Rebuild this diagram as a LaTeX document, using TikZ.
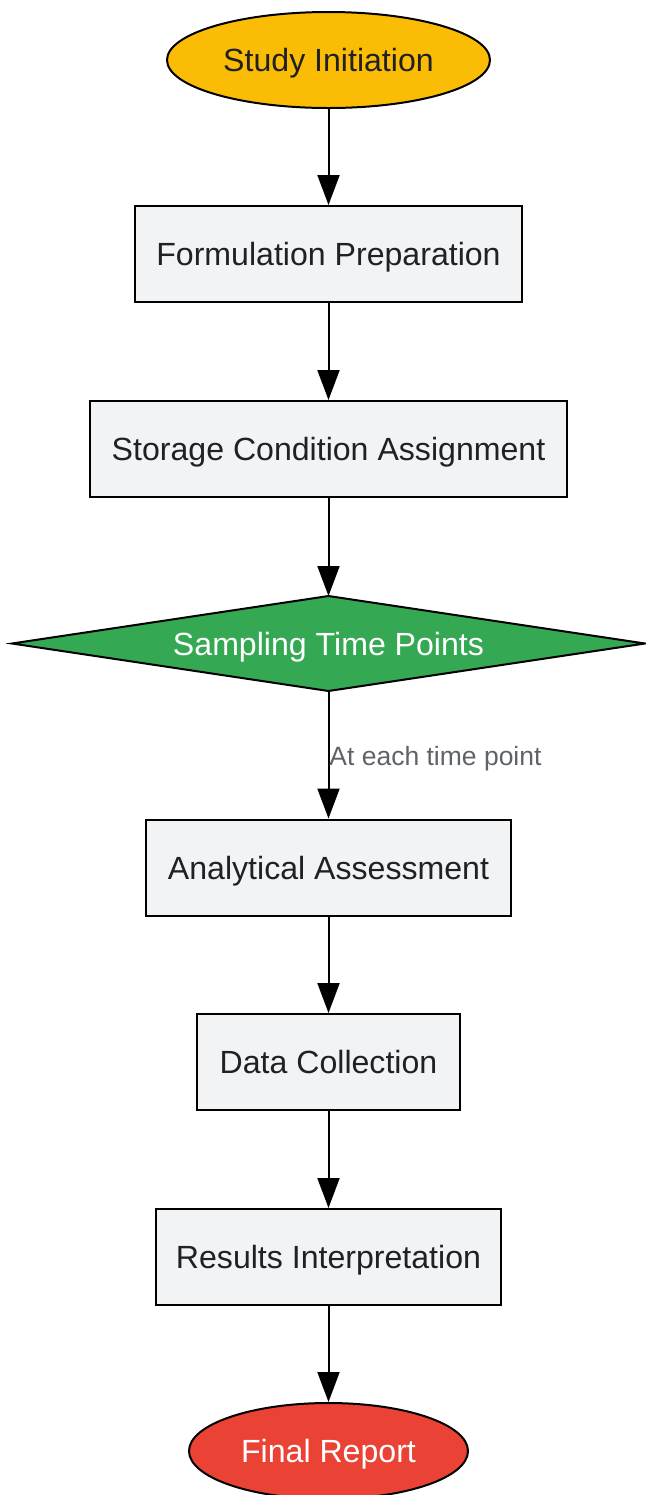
\documentclass[tikz,border=0pt]{standalone}
\usepackage{fontspec}
\setmainfont{Liberation Sans}
\usetikzlibrary{arrows.meta,shapes.geometric}
\definecolor{startc}{HTML}{FBBC05}
\definecolor{boxc}{HTML}{F1F3F4}
\definecolor{decc}{HTML}{34A853}
\definecolor{endc}{HTML}{EA4335}
\definecolor{txtc}{HTML}{202124}
\definecolor{lblc}{HTML}{5F6368}
\tikzset{
  base/.style={draw=black, line width=1pt, inner sep=0pt, text height=11.5pt, text depth=0pt, font=\fontsize{16.05}{19}\selectfont},
  procbox/.style={base, rectangle, fill=boxc, text=txtc, minimum height=48pt},
  termstart/.style={base, ellipse, fill=startc, text=txtc, minimum width=161.5pt, minimum height=48pt},
  termend/.style={base, ellipse, fill=endc, text=white, minimum width=139.5pt, minimum height=48pt},
  flow/.style={line width=1pt, -{Triangle[length=15pt, width=11pt]}},
  edgelabel/.style={text=lblc, inner sep=0pt, text height=9.5pt, text depth=0pt, font=\fontsize{13.25}{15}\selectfont}
}
\begin{document}
\begin{tikzpicture}[x=0.5pt, y=-0.5pt]
\useasboundingbox (0,0) rectangle (646,1495);
\node[termstart] (start) at (328.5,60) {Study Initiation};
\node[procbox, minimum width=193.5pt] (form) at (328.5,254) {Formulation Preparation};
\node[procbox, minimum width=238.5pt] (stor) at (328.5,449) {Storage Condition Assignment};
% decision diamond
\coordinate (dtop) at (328.5,596);
\coordinate (dbot) at (328.5,691);
\coordinate (dleft) at (12,643.5);
\coordinate (dright) at (645,643.5);
\draw[line width=1pt, fill=decc] (dleft) -- (dtop) -- (dright) -- (dbot) -- cycle;
\node[inner sep=0pt, text height=11.5pt, text depth=0pt, text=white, font=\fontsize{16.05}{19}\selectfont] (samp) at (328.5,643.5) {Sampling Time Points};
\node[procbox, minimum width=182.5pt] (anal) at (328.5,867.5) {Analytical Assessment};
\node[procbox, minimum width=131.5pt] (data) at (328.5,1062) {Data Collection};
\node[procbox, minimum width=172.5pt] (res) at (328.5,1257) {Results Interpretation};
\node[termend] (final) at (328.5,1451) {Final Report};
\draw[flow] (start) -- (form);
\draw[flow] (form) -- (stor);
\draw[flow] (stor) -- (dtop);
\draw[flow] (dbot) -- (anal);
\node[edgelabel, anchor=west] (lbl) at (329,756) {At each time point};
\draw[flow] (anal) -- (data);
\draw[flow] (data) -- (res);
\draw[flow] (res) -- (final);
\end{tikzpicture}
\end{document}
